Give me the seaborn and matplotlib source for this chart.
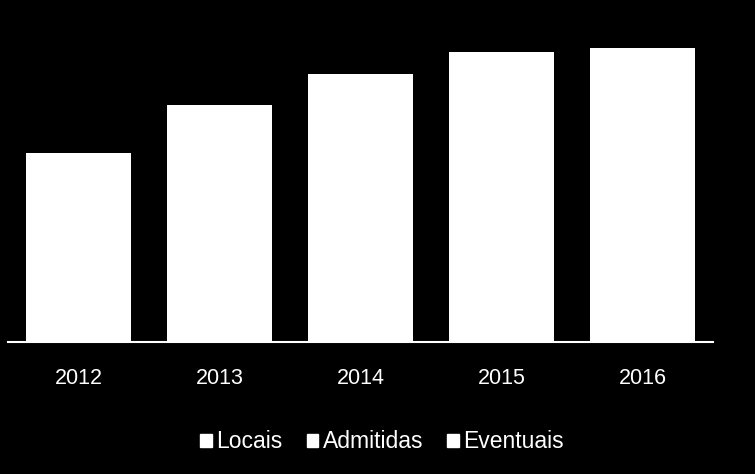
import matplotlib
matplotlib.use("Agg")
import matplotlib.pyplot as plt
from matplotlib.patches import Patch
import seaborn as sns
import pandas as pd

years = ["2012", "2013", "2014", "2015", "2016"]
locais = [12.1, 14.9, 16.5, 17.8, 18.0]
admitidas = [4.6, 6.2, 7.3, 8.0, 8.2]
eventuais = [2.2, 2.6, 3.0, 3.2, 3.2]
series_names = ["Locais", "Admitidas", "Eventuais"]

df = pd.DataFrame({"ano": years, "Locais": locais,
                   "Admitidas": admitidas, "Eventuais": eventuais})

sns.set_theme(style="dark")
plt.rcParams["font.family"] = ["Liberation Sans", "DejaVu Sans"]

fig = plt.figure(figsize=(7.55, 4.74), dpi=100, facecolor="black")
ax = fig.add_axes([8 / 755, 132 / 474, 705 / 755, 312 / 474])
ax.set_facecolor("black")

bottom = [0.0] * len(years)
for name in series_names:
    sns.barplot(data=df, x="ano", y=name, order=years, color="white",
                saturation=1, width=0.745, bottom=bottom, linewidth=0, ax=ax)
    bottom = [b + v for b, v in zip(bottom, df[name])]

ax.set_xlim(-0.5, 4.5)
ax.set_ylim(0, 31.2)
ax.set_xlabel("")
ax.set_ylabel("")
ax.set_yticks([])
ax.tick_params(axis="x", length=0, pad=19, labelsize=15.5, labelcolor="white")
ax.grid(False)
for side in ["top", "left", "right"]:
    ax.spines[side].set_visible(False)
ax.spines["bottom"].set_color("white")
ax.spines["bottom"].set_linewidth(1.5)

handles = [Patch(facecolor="white", edgecolor="white") for _ in series_names]
leg = fig.legend(handles, series_names, loc="center", bbox_to_anchor=(382 / 755, 1 - 442 / 474),
                 ncol=3, frameon=False, fontsize=16.5, handlelength=0.5, handleheight=0.5,
                 handletextpad=0.2, columnspacing=1.05)
for t in leg.get_texts():
    t.set_color("white")

fig.savefig("out.png", dpi=100, facecolor="black")
